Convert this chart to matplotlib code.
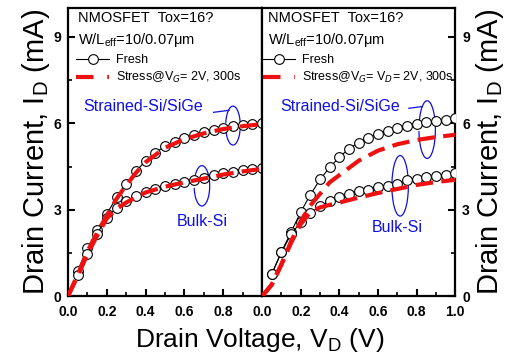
import numpy as np
import matplotlib
matplotlib.use('Agg')
import matplotlib.pyplot as plt
from matplotlib.patches import Arc
from matplotlib.lines import Line2D

plt.rcParams['font.family'] = ['Liberation Sans', 'DejaVu Sans']

# drain voltage sweep of the fresh devices
vd = [0.05, 0.10, 0.15, 0.20, 0.25, 0.30, 0.35, 0.40, 0.45, 0.50,
      0.55, 0.60, 0.65, 0.70, 0.75, 0.80, 0.85, 0.90, 0.95, 1.00]

# left panel, stress @ VG = 2V
fresh_ss_l = [0.88, 1.66, 2.28, 2.85, 3.43, 3.90, 4.33, 4.70, 4.98, 5.20,
              5.36, 5.49, 5.61, 5.69, 5.76, 5.84, 5.91, 5.94, 5.98, 6.00]
fresh_bk_l = [0.75, 1.46, 2.17, 2.72, 3.07, 3.29, 3.47, 3.63, 3.73, 3.84,
              3.90, 3.96, 4.02, 4.10, 4.19, 4.26, 4.31, 4.37, 4.41, 4.45]
vs = [0.0, 0.05, 0.10, 0.15, 0.20, 0.25, 0.30, 0.35, 0.40, 0.50, 0.60, 0.70, 0.80, 0.90, 1.00]
stress_ss_l = [0.0, 0.75, 1.55, 2.20, 2.80, 3.38, 3.85, 4.28, 4.65, 5.15, 5.45, 5.65, 5.80, 5.90, 5.97]
stress_bk_l = [0.0, 0.70, 1.45, 2.10, 2.70, 3.03, 3.25, 3.43, 3.60, 3.80, 3.95, 4.08, 4.22, 4.33, 4.42]

# right panel, stress @ VG = VD = 2V
fresh_ss_r = [0.77, 1.54, 2.22, 2.92, 3.52, 4.05, 4.47, 4.82, 5.12, 5.33,
              5.49, 5.64, 5.74, 5.82, 5.89, 5.96, 6.03, 6.07, 6.11, 6.17]
fresh_bk_r = [0.77, 1.52, 2.15, 2.57, 2.88, 3.13, 3.29, 3.44, 3.55, 3.65,
              3.70, 3.79, 3.84, 3.90, 4.02, 4.08, 4.12, 4.17, 4.22, 4.29]
stress_ss_r = [0.0, 0.40, 1.10, 1.90, 2.60, 3.15, 3.55, 3.95, 4.20, 4.70, 5.05, 5.27, 5.42, 5.52, 5.60]
stress_bk_r = [0.0, 0.40, 1.10, 1.85, 2.50, 2.92, 3.08, 3.17, 3.25, 3.42, 3.58, 3.72, 3.86, 3.96, 4.04]

fig = plt.figure(figsize=(5.19, 3.63), dpi=100)
axL = fig.add_axes([0.131, 0.184, 0.374, 0.794])
axR = fig.add_axes([0.505, 0.184, 0.372, 0.794])

blue = '#1010e0'
red = '#ee1111'
dash = (0, (4.2, 2.0))


def panel(ax, fss, fbk, sss, sbk, stress_label, tx, lx):
    ax.plot(vd, fss, '-o', color='black', lw=0.8, ms=7, mfc='white', mec='black', mew=0.8,
            zorder=3)
    ax.plot(vd, fbk, '-o', color='black', lw=0.8, ms=7, mfc='white', mec='black', mew=0.8,
            zorder=3)
    ax.plot(vs, sss, color=red, lw=3, linestyle=dash, zorder=4)
    ax.plot(vs, sbk, color=red, lw=3, linestyle=dash, zorder=4)
    ax.set_xlim(0, 1.0)
    ax.set_ylim(0, 10)
    ax.set_yticks([0, 3, 6, 9])
    ax.set_yticks([1.5, 4.5, 7.5], minor=True)
    ax.set_xticks([0.1, 0.3, 0.5, 0.7, 0.9], minor=True)
    for s in ax.spines.values():
        s.set_linewidth(1.6)
    ax.tick_params(which='major', direction='in', length=5, width=1.5, labelsize=10, pad=5)
    ax.tick_params(which='minor', direction='in', length=3, width=1.2)
    ax.tick_params(axis='x', which='major', pad=6)
    ax.text(tx, 0.965, 'NMOSFET  Tox=16?', transform=ax.transAxes, fontsize=10.5,
            va='center', ha='left')
    ax.text(tx, 0.89, 'W/L$_{\\mathregular{eff}}$=10/0.07$\\mathregular{\\mu}$m',
            transform=ax.transAxes, fontsize=10.5, va='center', ha='left')
    h1 = Line2D([], [], color='black', lw=0.8, marker='o', ms=7, mfc='white', mec='black', mew=0.8)
    h2 = Line2D([], [], color=red, lw=3, linestyle=(0, (4.2, 3.3)))
    ax.legend([h1, h2], ['Fresh', stress_label], loc='upper left',
              bbox_to_anchor=(lx, 0.865), frameon=False, fontsize=9,
              handlelength=2.6, handletextpad=0.55, labelspacing=0.3, borderaxespad=0.2)


panel(axL, fresh_ss_l, fresh_bk_l, stress_ss_l, stress_bk_l, 'Stress@V$_G$= 2V, 300s', 0.05, 0.005)
panel(axR, fresh_ss_r, fresh_bk_r, stress_ss_r, stress_bk_r, 'Stress@V$_G$= V$_D$= 2V, 300s', 0.03, -0.035)

axL.set_xticks([0.0, 0.2, 0.4, 0.6, 0.8])
axL.set_xticklabels(['0.0', '0.2', '0.4', '0.6', '0.8'], fontweight='bold')
axL.set_yticklabels(['0', '3', '6', '9'], fontweight='bold')
axL.tick_params(right=False, top=False)
axL.tick_params(which='minor', right=False, top=False)

axR.set_xticks([0.0, 0.2, 0.4, 0.6, 0.8, 1.0])
axR.set_xticklabels(['0.0', '0.2', '0.4', '0.6', '0.8', '1.0'], fontweight='bold')
axR.yaxis.tick_right()
axR.yaxis.set_label_position('right')
axR.set_yticklabels(['0', '3', '6', '9'], fontweight='bold')

ylab = 'Drain Current, I$_\\mathregular{D}$ (mA)'
axL.set_ylabel(ylab, fontsize=21, labelpad=1)
axR.set_ylabel(ylab, fontsize=21, labelpad=3, rotation=90)
fig.text(0.50, 0.062, 'Drain Voltage, V$_\\mathregular{D}$ (V)', fontsize=19, ha='center', va='center')

# annotations
axL.text(0.385, 6.59, 'Strained-Si/SiGe', color=blue, fontsize=11.5, ha='center', va='center')
axL.plot([0.75, 0.83], [6.38, 6.45], color=blue, lw=0.9)
axL.add_patch(Arc((0.85, 5.92), 0.075, 1.35, theta1=-130, theta2=115, color=blue, lw=0.9))
axL.text(0.69, 2.6, 'Bulk-Si', color=blue, fontsize=11.5, ha='center', va='center')
axL.add_patch(Arc((0.69, 3.83), 0.08, 1.4, theta1=-120, theta2=125, color=blue, lw=0.9))

axR.text(0.405, 6.59, 'Strained-Si/SiGe', color=blue, fontsize=11.5, ha='center', va='center')
axR.plot([0.76, 0.83], [6.52, 6.58], color=blue, lw=0.9)
axR.add_patch(Arc((0.855, 5.78), 0.085, 2.0, theta1=-130, theta2=110, color=blue, lw=0.9))
axR.text(0.70, 2.37, 'Bulk-Si', color=blue, fontsize=11.5, ha='center', va='center')
axR.add_patch(Arc((0.715, 3.83), 0.085, 2.1, theta1=-120, theta2=125, color=blue, lw=0.9))

fig.savefig('out.png', dpi=100)
